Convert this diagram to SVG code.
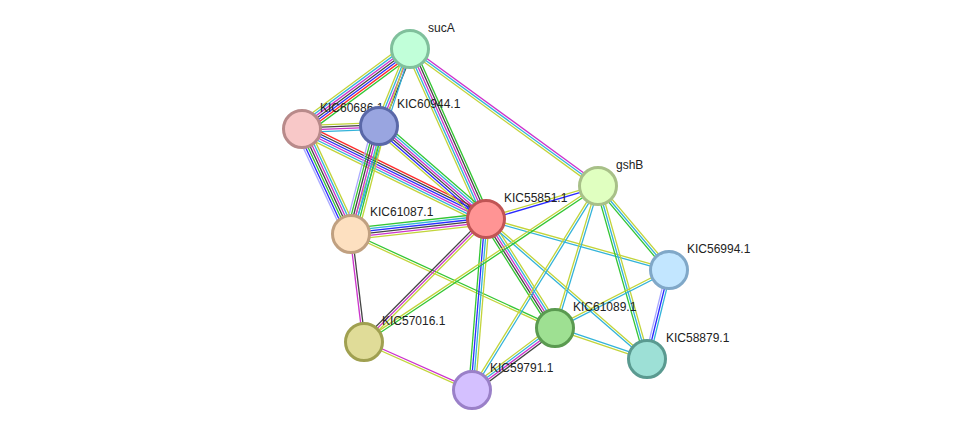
<svg xmlns="http://www.w3.org/2000/svg" width="975" height="435" viewBox="0 0 975 435">
<style>
line{stroke-width:1.3;fill:none;vector-effect:non-scaling-stroke}
.gr{stroke:#33c633}.rd{stroke:#ff2a2a}.bl{stroke:#2a2aff}.pu{stroke:#cc33cc}.cy{stroke:#33b3d9}.bk{stroke:#444}.ye{stroke:#c2d43a}.lb{stroke:#aaaaff}
.n circle{stroke-width:3}
.n text{font-family:"Liberation Sans",Arial,sans-serif;font-size:12px;fill:#222}
</style>
<rect width="975" height="435" fill="#fff"/>
<g id="edges">
<g transform="translate(410,49) rotate(143.5) scale(1,1.25)"><line x2="134.4" y1="-5.4" y2="-5.4" class="gr"/><line x2="134.4" y1="-3.6" y2="-3.6" class="rd"/><line x2="134.4" y1="-1.8" y2="-1.8" class="bl"/><line x2="134.4" class="bk"/><line x2="134.4" y1="1.8" y2="1.8" class="pu"/><line x2="134.4" y1="3.6" y2="3.6" class="cy"/><line x2="134.4" y1="5.4" y2="5.4" class="ye"/></g>
<g transform="translate(410,49) rotate(111.9) scale(1,1.25)"><line x2="83" y1="-2.7" y2="-2.7" class="bk"/><line x2="83" y1="-0.9" y2="-0.9" class="pu"/><line x2="83" y1="0.9" y2="0.9" class="cy"/><line x2="83" y1="2.7" y2="2.7" class="ye"/></g>
<g transform="translate(410,49) rotate(107.7) scale(1,1.25)"><line x2="194.2" y1="-0.9" y2="-0.9" class="cy"/><line x2="194.2" y1="0.9" y2="0.9" class="ye"/></g>
<g transform="translate(410,49) rotate(65.9) scale(1,1.25)"><line x2="186.2" y1="-3.6" y2="-3.6" class="gr"/><line x2="186.2" y1="-1.8" y2="-1.8" class="bk"/><line x2="186.2" class="pu"/><line x2="186.2" y1="1.8" y2="1.8" class="cy"/><line x2="186.2" y1="3.6" y2="3.6" class="ye"/></g>
<g transform="translate(410,49) rotate(36.1) scale(1,1.25)"><line x2="232.6" y1="-1.8" y2="-1.8" class="pu"/><line x2="232.6" class="cy"/><line x2="232.6" y1="1.8" y2="1.8" class="ye"/></g>
<g transform="translate(302,129) rotate(-2.2) scale(1,1.25)"><line x2="77.1" y1="-2.7" y2="-2.7" class="ye"/><line x2="77.1" y1="-0.9" y2="-0.9" class="bk"/><line x2="77.1" y1="0.9" y2="0.9" class="pu"/><line x2="77.1" y1="2.7" y2="2.7" class="cy"/></g>
<g transform="translate(302,129) rotate(65) scale(1,1.25)"><line x2="115.9" y1="-5.4" y2="-5.4" class="ye"/><line x2="115.9" y1="-3.6" y2="-3.6" class="cy"/><line x2="115.9" y1="-1.8" y2="-1.8" class="pu"/><line x2="115.9" class="bk"/><line x2="115.9" y1="1.8" y2="1.8" class="gr"/><line x2="115.9" y1="3.6" y2="3.6" class="bl"/><line x2="115.9" y1="5.4" y2="5.4" class="lb"/></g>
<g transform="translate(302,129) rotate(26.1) scale(1,1.25)"><line x2="204.8" y1="-4.5" y2="-4.5" class="rd"/><line x2="204.8" y1="-2.7" y2="-2.7" class="bk"/><line x2="204.8" y1="-0.9" y2="-0.9" class="bl"/><line x2="204.8" y1="0.9" y2="0.9" class="pu"/><line x2="204.8" y1="2.7" y2="2.7" class="cy"/><line x2="204.8" y1="4.5" y2="4.5" class="ye"/></g>
<g transform="translate(379,126) rotate(104.5) scale(1,1.25)"><line x2="111.6" y1="-5.4" y2="-5.4" class="ye"/><line x2="111.6" y1="-3.6" y2="-3.6" class="gr"/><line x2="111.6" y1="-1.8" y2="-1.8" class="cy"/><line x2="111.6" class="pu"/><line x2="111.6" y1="1.8" y2="1.8" class="bk"/><line x2="111.6" y1="3.6" y2="3.6" class="gr"/><line x2="111.6" y1="5.4" y2="5.4" class="lb"/></g>
<g transform="translate(379,126) rotate(41) scale(1,1.25)"><line x2="141.8" y1="-4.5" y2="-4.5" class="gr"/><line x2="141.8" y1="-2.7" y2="-2.7" class="cy"/><line x2="141.8" y1="-0.9" y2="-0.9" class="pu"/><line x2="141.8" y1="0.9" y2="0.9" class="bk"/><line x2="141.8" y1="2.7" y2="2.7" class="bl"/><line x2="141.8" y1="4.5" y2="4.5" class="ye"/></g>
<g transform="translate(351,234) rotate(-6.3) scale(1,1.25)"><line x2="135.8" y1="-4.5" y2="-4.5" class="gr"/><line x2="135.8" y1="-2.7" y2="-2.7" class="cy"/><line x2="135.8" y1="-0.9" y2="-0.9" class="bl"/><line x2="135.8" y1="0.9" y2="0.9" class="bk"/><line x2="135.8" y1="2.7" y2="2.7" class="pu"/><line x2="135.8" y1="4.5" y2="4.5" class="ye"/></g>
<g transform="translate(351,234) rotate(83.1) scale(1,1.25)"><line x2="108.8" y1="-0.9" y2="-0.9" class="bk"/><line x2="108.8" y1="0.9" y2="0.9" class="pu"/></g>
<g transform="translate(351,234) rotate(24.7) scale(1,1.25)"><line x2="224.6" y1="-0.9" y2="-0.9" class="gr"/><line x2="224.6" y1="0.9" y2="0.9" class="ye"/></g>
<g transform="translate(486,219) rotate(-16.4) scale(1,1.25)"><line x2="116.8" y1="-0.9" y2="-0.9" class="ye"/><line x2="116.8" y1="0.9" y2="0.9" class="bl"/></g>
<g transform="translate(486,219) rotate(15.6) scale(1,1.25)"><line x2="190" y1="-0.9" y2="-0.9" class="ye"/><line x2="190" y1="0.9" y2="0.9" class="cy"/></g>
<g transform="translate(486,219) rotate(57.7) scale(1,1.25)"><line x2="129" y1="-3.6" y2="-3.6" class="ye"/><line x2="129" y1="-1.8" y2="-1.8" class="cy"/><line x2="129" class="pu"/><line x2="129" y1="1.8" y2="1.8" class="bk"/><line x2="129" y1="3.6" y2="3.6" class="gr"/></g>
<g transform="translate(486,219) rotate(94.7) scale(1,1.25)"><line x2="171.6" y1="-2.7" y2="-2.7" class="ye"/><line x2="171.6" y1="-0.9" y2="-0.9" class="cy"/><line x2="171.6" y1="0.9" y2="0.9" class="bl"/><line x2="171.6" y1="2.7" y2="2.7" class="gr"/></g>
<g transform="translate(486,219) rotate(41) scale(1,1.25)"><line x2="213.4" y1="-0.9" y2="-0.9" class="ye"/><line x2="213.4" y1="0.9" y2="0.9" class="cy"/></g>
<g transform="translate(486,219) rotate(134.8) scale(1,1.25)"><line x2="173.2" y1="-1.8" y2="-1.8" class="ye"/><line x2="173.2" class="pu"/><line x2="173.2" y1="1.8" y2="1.8" class="bk"/></g>
<g transform="translate(598,186) rotate(146.3) scale(1,1.25)"><line x2="281.2" y1="-0.9" y2="-0.9" class="gr"/><line x2="281.2" y1="0.9" y2="0.9" class="ye"/></g>
<g transform="translate(598,186) rotate(121.7) scale(1,1.25)"><line x2="239.8" y1="-0.9" y2="-0.9" class="cy"/><line x2="239.8" y1="0.9" y2="0.9" class="ye"/></g>
<g transform="translate(598,186) rotate(106.8) scale(1,1.25)"><line x2="148.4" y1="-0.9" y2="-0.9" class="cy"/><line x2="148.4" y1="0.9" y2="0.9" class="ye"/></g>
<g transform="translate(598,186) rotate(74.2) scale(1,1.25)"><line x2="179.8" y1="-1.8" y2="-1.8" class="ye"/><line x2="179.8" class="cy"/><line x2="179.8" y1="1.8" y2="1.8" class="gr"/></g>
<g transform="translate(598,186) rotate(49.8) scale(1,1.25)"><line x2="110" y1="-1.8" y2="-1.8" class="ye"/><line x2="110" class="cy"/><line x2="110" y1="1.8" y2="1.8" class="gr"/></g>
<g transform="translate(669,270) rotate(153) scale(1,1.25)"><line x2="127.9" y1="-0.9" y2="-0.9" class="cy"/><line x2="127.9" y1="0.9" y2="0.9" class="ye"/></g>
<g transform="translate(669,270) rotate(103.9) scale(1,1.25)"><line x2="91.7" y1="-1.8" y2="-1.8" class="cy"/><line x2="91.7" class="bl"/><line x2="91.7" y1="1.8" y2="1.8" class="lb"/></g>
<g transform="translate(555,328) rotate(18.6) scale(1,1.25)"><line x2="97.1" y1="-0.9" y2="-0.9" class="cy"/><line x2="97.1" y1="0.9" y2="0.9" class="ye"/></g>
<g transform="translate(555,328) rotate(143.2) scale(1,1.25)"><line x2="103.6" y1="-2.7" y2="-2.7" class="bk"/><line x2="103.6" y1="-0.9" y2="-0.9" class="pu"/><line x2="103.6" y1="0.9" y2="0.9" class="cy"/><line x2="103.6" y1="2.7" y2="2.7" class="ye"/></g>
<g transform="translate(364,342) rotate(24) scale(1,1.25)"><line x2="118.2" y1="-0.9" y2="-0.9" class="pu"/><line x2="118.2" y1="0.9" y2="0.9" class="ye"/></g>
</g>
<g id="sucA" class="n"><circle cx="410" cy="49" r="18.5" fill="#c1ffd9" stroke="#80c09c"/><text x="428" y="32">sucA</text></g>
<g id="KIC60686.1" class="n"><circle cx="302" cy="129" r="18.5" fill="#f8c8c8" stroke="#b88a8a"/><text x="320" y="112">KIC60686.1</text></g>
<g id="KIC60944.1" class="n"><circle cx="379" cy="126" r="18.5" fill="#99a5e0" stroke="#5a68a8"/><text x="397" y="108">KIC60944.1</text></g>
<g id="KIC61087.1" class="n"><circle cx="351" cy="234" r="18.5" fill="#fde0c0" stroke="#c0a080"/><text x="370" y="216">KIC61087.1</text></g>
<g id="KIC55851.1" class="n"><circle cx="486" cy="219" r="18.5" fill="#ff9494" stroke="#c05454"/><text x="504" y="202">KIC55851.1</text></g>
<g id="gshB" class="n"><circle cx="598" cy="186" r="18.5" fill="#e0ffc0" stroke="#a8c088"/><text x="616" y="169">gshB</text></g>
<g id="KIC56994.1" class="n"><circle cx="669" cy="270" r="18.5" fill="#c2e6ff" stroke="#80a8c8"/><text x="687" y="253">KIC56994.1</text></g>
<g id="KIC61089.1" class="n"><circle cx="555" cy="328" r="18.5" fill="#9ee092" stroke="#5a9a50"/><text x="573" y="311">KIC61089.1</text></g>
<g id="KIC58879.1" class="n"><circle cx="647" cy="359" r="18.5" fill="#9de0d6" stroke="#5a9a90"/><text x="666" y="342">KIC58879.1</text></g>
<g id="KIC57016.1" class="n"><circle cx="364" cy="342" r="18.5" fill="#e0dc98" stroke="#a0a050"/><text x="382" y="325">KIC57016.1</text></g>
<g id="KIC59791.1" class="n"><circle cx="472" cy="390" r="18.5" fill="#d4c0ff" stroke="#9a80c8"/><text x="490" y="372">KIC59791.1</text></g>
</svg>
